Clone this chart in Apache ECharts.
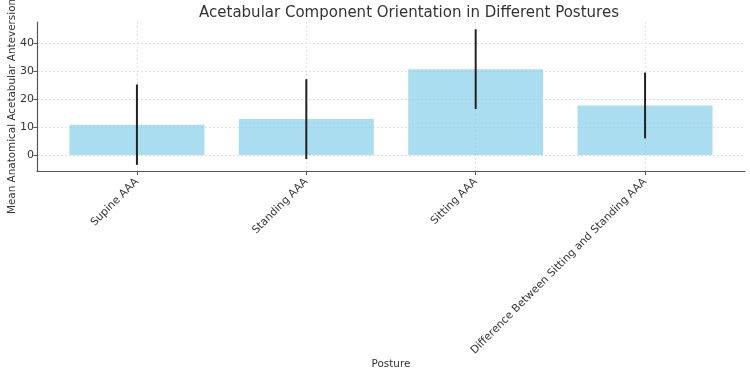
<!DOCTYPE html>
<html>
<head>
<meta charset="utf-8">
<script src="https://cdn.jsdelivr.net/npm/echarts@6/dist/echarts.min.js"></script>
<style>html,body{margin:0;padding:0;background:#fff}#c{width:750px;height:372px}</style>
</head>
<body>
<div id="c"></div>
<script>
const categories = ['Supine AAA', 'Standing AAA', 'Sitting AAA', 'Difference Between Sitting and Standing AAA'];
const means = [10.9, 12.9, 30.8, 17.8];
const sds = [14.4, 14.3, 14.3, 11.8];
const yTicks = [0, 10, 20, 30, 40];

const font = 'DejaVu Sans';
const positions = categories.map((c, i) => i);
const chart = echarts.init(document.getElementById('c'), null, {renderer: 'canvas'});
chart.setOption({
  backgroundColor: '#fff',
  animation: false,
  title: {
    text: 'Acetabular Component Orientation in Different Postures',
    left: 404, top: 1, textAlign: 'center',
    textStyle: {fontFamily: font, fontSize: 15, fontWeight: 'normal', color: '#333'}
  },
  graphic: [{
    type: 'text', x: 12, y: 214, rotation: Math.PI / 2,
    style: {text: 'Mean Anatomical Acetabular Anteversion', fontFamily: font, fontSize: 10.4, fill: '#333', align: 'left', verticalAlign: 'middle'}
  }],
  grid: {left: 37, right: 5, top: 22, bottom: 201, containLabel: false},
  xAxis: {
    type: 'value', min: -0.59, max: 3.59,
    name: 'Posture', nameLocation: 'middle', nameGap: 179,
    nameTextStyle: {fontFamily: font, fontSize: 10.4, color: '#333'},
    axisLine: {show: true, onZero: false, lineStyle: {color: '#555', width: 1.2}},
    axisTick: {show: true, customValues: positions, length: 4, lineStyle: {color: '#555'}},
    axisLabel: {customValues: positions, rotate: 45, margin: 9, fontFamily: font, fontSize: 10.7, color: '#333',
      formatter: v => categories[Math.round(v)]},
    splitLine: {show: true, lineStyle: {color: '#d8d8d8', type: [2, 2], width: 0.8}}
  },
  yAxis: {
    type: 'value', min: -5.7, max: 47.7,
    axisLine: {show: true, onZero: false, lineStyle: {color: '#555', width: 1.2}},
    axisTick: {show: true, customValues: yTicks, length: 3.5, lineStyle: {color: '#555'}},
    axisLabel: {customValues: yTicks, margin: 3, fontFamily: font, fontSize: 11, color: '#333'},
    splitLine: {show: true, lineStyle: {color: '#d8d8d8', type: [2, 2], width: 0.8}}
  },
  series: [{
    type: 'bar', barWidth: 135,
    itemStyle: {color: 'rgba(135,206,235,0.7)'},
    data: means.map((m, i) => [i, m]),
    z: 2
  }, {
    type: 'custom', z: 3,
    data: means.map((m, i) => [i, m - sds[i], m + sds[i]]),
    renderItem: (params, api) => {
      const lo = api.coord([api.value(0), api.value(1)]);
      const hi = api.coord([api.value(0), api.value(2)]);
      return {type: 'line', shape: {x1: lo[0], y1: lo[1], x2: hi[0], y2: hi[1]},
        style: {stroke: '#222', lineWidth: 2}};
    }
  }]
});
</script>
</body>
</html>
